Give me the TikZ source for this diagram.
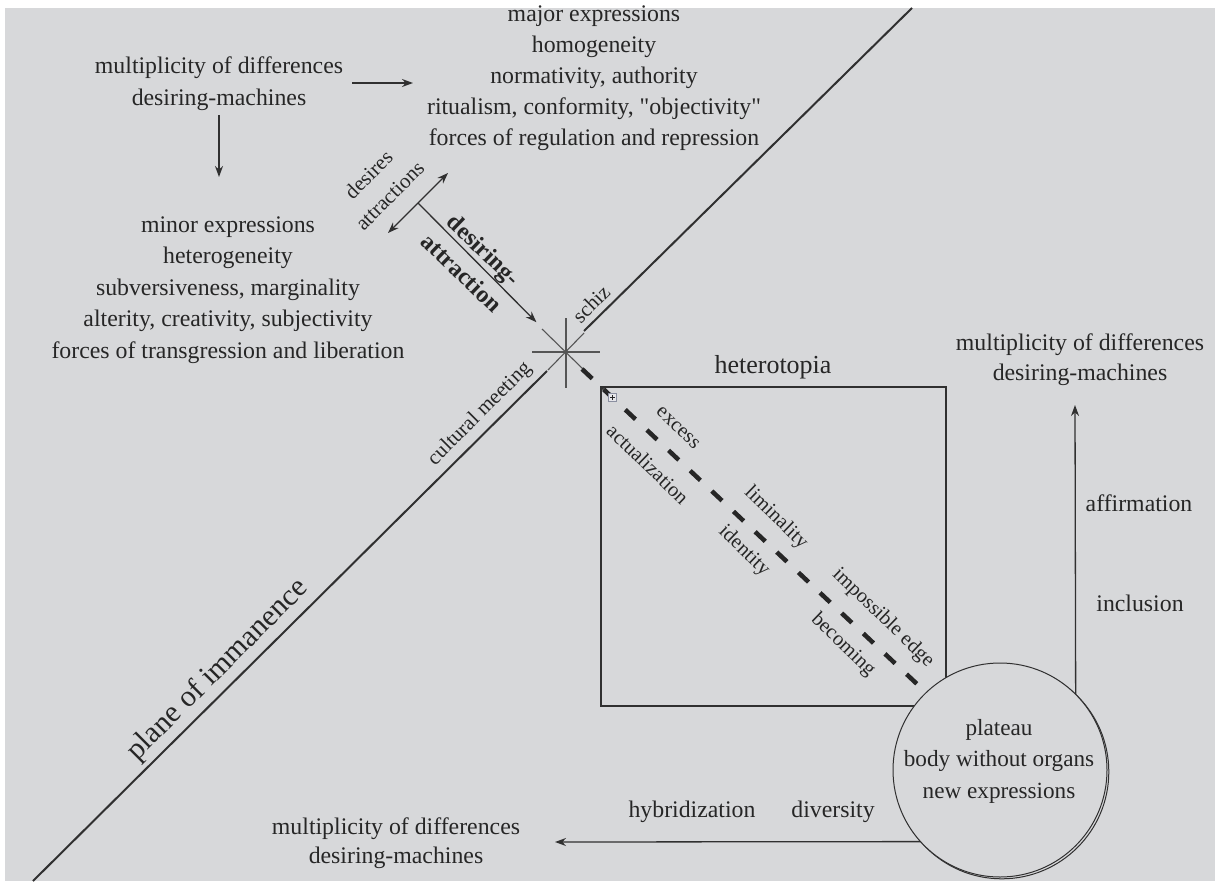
\documentclass[tikz,border=0pt]{standalone}
\usepackage{fontspec}
\setmainfont{Liberation Serif}[Ligatures=TeXOff]
\usetikzlibrary{arrows.meta}
\definecolor{bg}{HTML}{D7D8DA}
\definecolor{ink}{HTML}{262626}
\definecolor{ln}{HTML}{303030}
\definecolor{starc}{HTML}{555555}
\definecolor{iconbd}{HTML}{8A8FA0}
\definecolor{iconfl}{HTML}{E6E6EA}
\begin{document}
\begin{tikzpicture}[x=1pt,y=-1pt,
  txt/.style={text=ink, align=center, inner sep=0pt, font=\fontsize{23.8}{31}\selectfont},
  txttwo/.style={text=ink, align=center, inner sep=0pt, font=\fontsize{23.8}{30}\selectfont},
  lbl/.style={text=ink, align=center, inner sep=0pt, font=\fontsize{21}{30}\selectfont},
  inlbl/.style={text=ink, inner sep=0pt, font=\fontsize{20.5}{24}\selectfont, rotate=-44},
  boldlbl/.style={text=ink, align=center, inner sep=0pt, font=\fontsize{24}{32}\selectfont\bfseries},
  arr/.style={draw=ln, line width=1.3pt, -{Stealth[length=11pt,width=8pt]}},
  darr/.style={draw=ln, line width=1.3pt, {Stealth[length=11pt,width=8pt]}-{Stealth[length=11pt,width=8pt]}},
  plane/.style={draw=ln, line width=2pt},
  starline/.style={draw=starc, line width=1.1pt},
  thickdash/.style={draw=ln!80!black, line width=4.5pt, dash pattern=on 14pt off 15.7pt},
]
\useasboundingbox (0,0) rectangle (1215,881);
\fill[white] (0,0) rectangle (1215,881);
\fill[bg] (5,8) rectangle (1215,881);

% plane of immanence (broken at the schiz)
\coordinate (pA) at (33,881);
\coordinate (pB) at (547,371);
\coordinate (S) at (566,352);
\coordinate (pC) at (584,331);
\coordinate (pD) at (912,8);
\draw[plane] (pA) -- (pB);
\draw[plane] (pC) -- (pD);

% star at the schiz
\draw[starline] (532,352) -- (600,352);
\draw[starline] (566,318) -- (566,388);
\draw[starline] (542,329) -- (583,369);
\draw[starline] (548,370) -- (584,333);

% heterotopia box
\node[draw=ln, line width=2pt, minimum width=345pt, minimum height=319pt, inner sep=0pt, outer sep=0pt] (hbox) at (773.5,546.5) {};

% thick dashed diagonal
\coordinate (dA) at (582,369);
\coordinate (dB) at (917,684);
\draw[thickdash] (dA) -- (dB);

% small icon at the box corner
\node[draw=iconbd, fill=iconfl, minimum size=8.5pt, inner sep=0pt, line width=0.6pt] (icon) at (612.5,397.5) {};
\draw[ink, line width=0.7pt] ([xshift=-2.5pt]icon.center) -- ([xshift=2.5pt]icon.center)
  ([yshift=-2.5pt]icon.center) -- ([yshift=2.5pt]icon.center);
\draw[ln, line width=0.6pt, -{Stealth[length=4pt,width=3pt]}] (icon.north west) -- (hbox.north west);

% plateau circle (double outline)
\node[circle, draw=ln, fill=bg, minimum size=214pt, inner sep=0pt, outer sep=0pt, line width=1pt] (platshadow) at (1001.8,771.8) {};
\node[circle, draw=ln, fill=bg, minimum size=214pt, inner sep=0pt, outer sep=0pt, line width=1pt] (plat) at (1000,770) {};
\node[txt, font=\fontsize{23.2}{31.5}\selectfont] (plattext) at (999,761) {plateau\\body without organs\\new expressions};

% texts
\node[txttwo, font=\fontsize{23.8}{32}\selectfont] (ml) at (219,84) {multiplicity of differences\\desiring-machines};
\node[txt] (major) at (594,78) {major expressions\\homogeneity\\normativity, authority\\ritualism, conformity, "objectivity"\\forces of regulation and repression};
\node[txt, font=\fontsize{23.8}{31.5}\selectfont] (minor) at (228,290) {minor expressions\\heterogeneity\\subversiveness, marginality\\alterity, creativity, subjectivity\\forces of transgression and liberation};
\node[txttwo] (rml) at (1080,360) {multiplicity of differences\\desiring-machines};
\node[txttwo, font=\fontsize{23.8}{28.5}\selectfont] (bml) at (396,843) {multiplicity of differences\\desiring-machines};

\node[txt, font=\fontsize{26}{31}\selectfont] (het) at (773,367) {heterotopia};
\node[txt] (affirm) at (1139,503) {affirmation};
\node[txt] (incl) at (1140,603) {inclusion};
\node[txt] (hyb) at (692,812) {hybridization};
\node[txt] (div) at (833,812) {diversity};

% rotated labels
\node[lbl, rotate=45] (desatt) at (379,185) {desires\\attractions};
\node[boldlbl, rotate=-44] (desiring) at (473,261) {desiring-\\attraction};
\node[lbl, rotate=45] (schiz) at (591,304) {schiz};
\node[lbl, rotate=45] (cult) at (480,414) {cultural meeting};
\node[text=ink, inner sep=0pt, font=\fontsize{30}{34}\selectfont, rotate=45] (poi) at (218,670) {plane of immanence};

\node[inlbl] (excess) at (678,428) {excess};
\node[inlbl] (actual) at (648,464) {actualization};
\node[inlbl] (limin) at (776,518) {liminality};
\node[inlbl] (ident) at (744,551) {identity};
\node[inlbl] (imposs) at (883,618) {impossible edge};
\node[inlbl] (becom) at (843,645) {becoming};

% arrows
\coordinate (a1s) at (352,83);
\coordinate (a1e) at (413,83);
\draw[arr] (a1s) -- (a1e);
\coordinate (a2s) at (219,115);
\coordinate (a2e) at (219,177);
\draw[arr] (a2s) -- (a2e);

\coordinate (daU) at (448,173);
\coordinate (daL) at (388,233);
\coordinate (dm) at (418,203);
\draw[darr] (daU) -- (daL);
\draw[arr, shorten >=42pt] (dm) -- (S);

\coordinate (rtip) at (1075,405);
\draw[arr] (plat.45.4) -- (rtip);
\coordinate (btip) at (555,842);
\draw[arr] (plat.222.3) -- (btip);
\end{tikzpicture}
\end{document}
